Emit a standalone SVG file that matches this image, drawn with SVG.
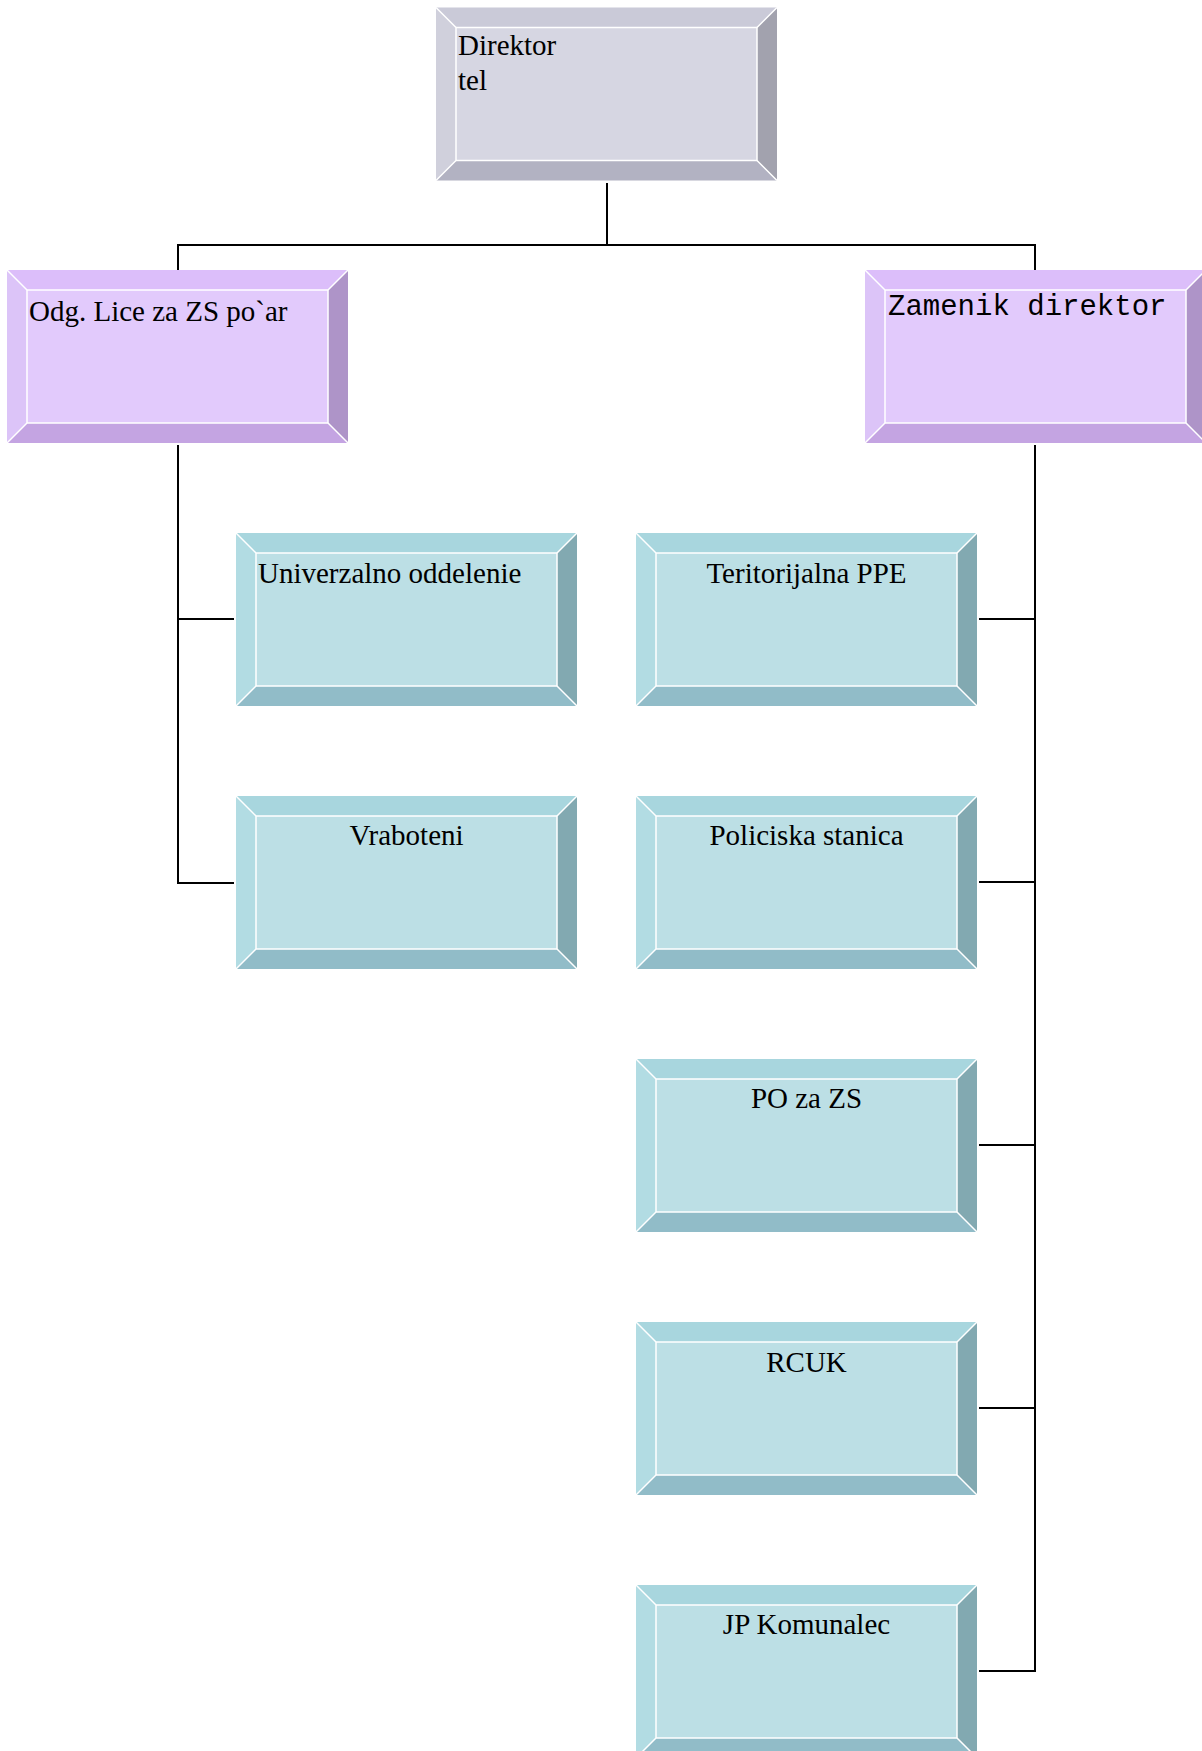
<svg xmlns="http://www.w3.org/2000/svg" width="1202" height="1751" viewBox="0 0 1202 1751">
<style>
.face{stroke:#ffffff;stroke-width:1.5}
.hl{stroke:#ffffff;stroke-width:1.5;fill:none}
.g .t{fill:#cacad8}.g .r{fill:#a2a2ae}.g .b{fill:#b2b2c2}.g .l{fill:#d0d0dc}.g .face{fill:#d6d6e2}
.p .t{fill:#dcbefa}.p .r{fill:#ae94c8}.p .b{fill:#c4a4e2}.p .l{fill:#dcc4f8}.p .face{fill:#e2cafc}
.c .t{fill:#a8d6de}.c .r{fill:#82a9b1}.c .b{fill:#91bcc8}.c .l{fill:#b2dce3}.c .face{fill:#bcdfe5}
.lbl{font-family:"Liberation Serif","Times New Roman",serif;font-size:29px;fill:#000}
.mono{font-family:"Liberation Mono","Courier New",monospace;font-size:29px;fill:#000}
.mid{text-anchor:middle}
.conn{stroke:#000;stroke-width:2;fill:none}
</style>
<rect width="1202" height="1751" fill="#ffffff"/>
<g id="connectors">
<path class="conn" d="M607,183 V245"/>
<path class="conn" d="M178,270 V245 H1035 V270"/>
<path class="conn" d="M178,445 V883 H234"/>
<path class="conn" d="M178,619 H234"/>
<path class="conn" d="M1035,445 V1671 H979"/>
<path class="conn" d="M1035,619 H979"/>
<path class="conn" d="M1035,882 H979"/>
<path class="conn" d="M1035,1145 H979"/>
<path class="conn" d="M1035,1408 H979"/>
</g>
<g id="direktor" class="g">
<g transform="translate(436,7.5)">
<polygon class="t" points="0,0 341,0 321,20 20,20"/><polygon class="r" points="341,0 341,173 321,153 321,20"/><polygon class="b" points="0,173 341,173 321,153 20,153"/><polygon class="l" points="0,0 20,20 20,153 0,173"/><rect class="face" x="20" y="20" width="301" height="133"/><path class="hl" d="M0,0 L20,20 M341,0 L321,20 M0,173 L20,153 M341,173 L321,153"/>
</g>
<text class="lbl" x="458" y="55">Direktor</text>
<text class="lbl" x="458" y="90">tel</text>
</g>
<g id="odg-lice" class="p">
<g transform="translate(7,270)">
<polygon class="t" points="0,0 341,0 321,20 20,20"/><polygon class="r" points="341,0 341,173 321,153 321,20"/><polygon class="b" points="0,173 341,173 321,153 20,153"/><polygon class="l" points="0,0 20,20 20,153 0,173"/><rect class="face" x="20" y="20" width="301" height="133"/><path class="hl" d="M0,0 L20,20 M341,0 L321,20 M0,173 L20,153 M341,173 L321,153"/>
</g>
<text class="lbl" x="29" y="321">Odg. Lice za ZS po`ar</text>
</g>
<g id="zamenik" class="p">
<g transform="translate(865,270)">
<polygon class="t" points="0,0 341,0 321,20 20,20"/><polygon class="r" points="341,0 341,173 321,153 321,20"/><polygon class="b" points="0,173 341,173 321,153 20,153"/><polygon class="l" points="0,0 20,20 20,153 0,173"/><rect class="face" x="20" y="20" width="301" height="133"/><path class="hl" d="M0,0 L20,20 M341,0 L321,20 M0,173 L20,153 M341,173 L321,153"/>
</g>
<text class="mono" x="888" y="315">Zamenik direktor</text>
</g>
<g id="univerzalno" class="c">
<g transform="translate(236,533)">
<polygon class="t" points="0,0 341,0 321,20 20,20"/><polygon class="r" points="341,0 341,173 321,153 321,20"/><polygon class="b" points="0,173 341,173 321,153 20,153"/><polygon class="l" points="0,0 20,20 20,153 0,173"/><rect class="face" x="20" y="20" width="301" height="133"/><path class="hl" d="M0,0 L20,20 M341,0 L321,20 M0,173 L20,153 M341,173 L321,153"/>
</g>
<text class="lbl" x="258" y="583">Univerzalno oddelenie</text>
</g>
<g id="vraboteni" class="c">
<g transform="translate(236,796)">
<polygon class="t" points="0,0 341,0 321,20 20,20"/><polygon class="r" points="341,0 341,173 321,153 321,20"/><polygon class="b" points="0,173 341,173 321,153 20,153"/><polygon class="l" points="0,0 20,20 20,153 0,173"/><rect class="face" x="20" y="20" width="301" height="133"/><path class="hl" d="M0,0 L20,20 M341,0 L321,20 M0,173 L20,153 M341,173 L321,153"/>
</g>
<text class="lbl mid" x="406.5" y="845">Vraboteni</text>
</g>
<g id="teritorijalna" class="c">
<g transform="translate(636,533)">
<polygon class="t" points="0,0 341,0 321,20 20,20"/><polygon class="r" points="341,0 341,173 321,153 321,20"/><polygon class="b" points="0,173 341,173 321,153 20,153"/><polygon class="l" points="0,0 20,20 20,153 0,173"/><rect class="face" x="20" y="20" width="301" height="133"/><path class="hl" d="M0,0 L20,20 M341,0 L321,20 M0,173 L20,153 M341,173 L321,153"/>
</g>
<text class="lbl mid" x="806.5" y="583">Teritorijalna PPE</text>
</g>
<g id="policiska" class="c">
<g transform="translate(636,796)">
<polygon class="t" points="0,0 341,0 321,20 20,20"/><polygon class="r" points="341,0 341,173 321,153 321,20"/><polygon class="b" points="0,173 341,173 321,153 20,153"/><polygon class="l" points="0,0 20,20 20,153 0,173"/><rect class="face" x="20" y="20" width="301" height="133"/><path class="hl" d="M0,0 L20,20 M341,0 L321,20 M0,173 L20,153 M341,173 L321,153"/>
</g>
<text class="lbl mid" x="806.5" y="845">Policiska stanica</text>
</g>
<g id="po-zs" class="c">
<g transform="translate(636,1059)">
<polygon class="t" points="0,0 341,0 321,20 20,20"/><polygon class="r" points="341,0 341,173 321,153 321,20"/><polygon class="b" points="0,173 341,173 321,153 20,153"/><polygon class="l" points="0,0 20,20 20,153 0,173"/><rect class="face" x="20" y="20" width="301" height="133"/><path class="hl" d="M0,0 L20,20 M341,0 L321,20 M0,173 L20,153 M341,173 L321,153"/>
</g>
<text class="lbl mid" x="806.5" y="1108">PO za ZS</text>
</g>
<g id="rcuk" class="c">
<g transform="translate(636,1322)">
<polygon class="t" points="0,0 341,0 321,20 20,20"/><polygon class="r" points="341,0 341,173 321,153 321,20"/><polygon class="b" points="0,173 341,173 321,153 20,153"/><polygon class="l" points="0,0 20,20 20,153 0,173"/><rect class="face" x="20" y="20" width="301" height="133"/><path class="hl" d="M0,0 L20,20 M341,0 L321,20 M0,173 L20,153 M341,173 L321,153"/>
</g>
<text class="lbl mid" x="806.5" y="1372">RCUK</text>
</g>
<g id="jp-komunalec" class="c">
<g transform="translate(636,1585)">
<polygon class="t" points="0,0 341,0 321,20 20,20"/><polygon class="r" points="341,0 341,173 321,153 321,20"/><polygon class="b" points="0,173 341,173 321,153 20,153"/><polygon class="l" points="0,0 20,20 20,153 0,173"/><rect class="face" x="20" y="20" width="301" height="133"/><path class="hl" d="M0,0 L20,20 M341,0 L321,20 M0,173 L20,153 M341,173 L321,153"/>
</g>
<text class="lbl mid" x="806.5" y="1634">JP Komunalec</text>
</g>
</svg>
